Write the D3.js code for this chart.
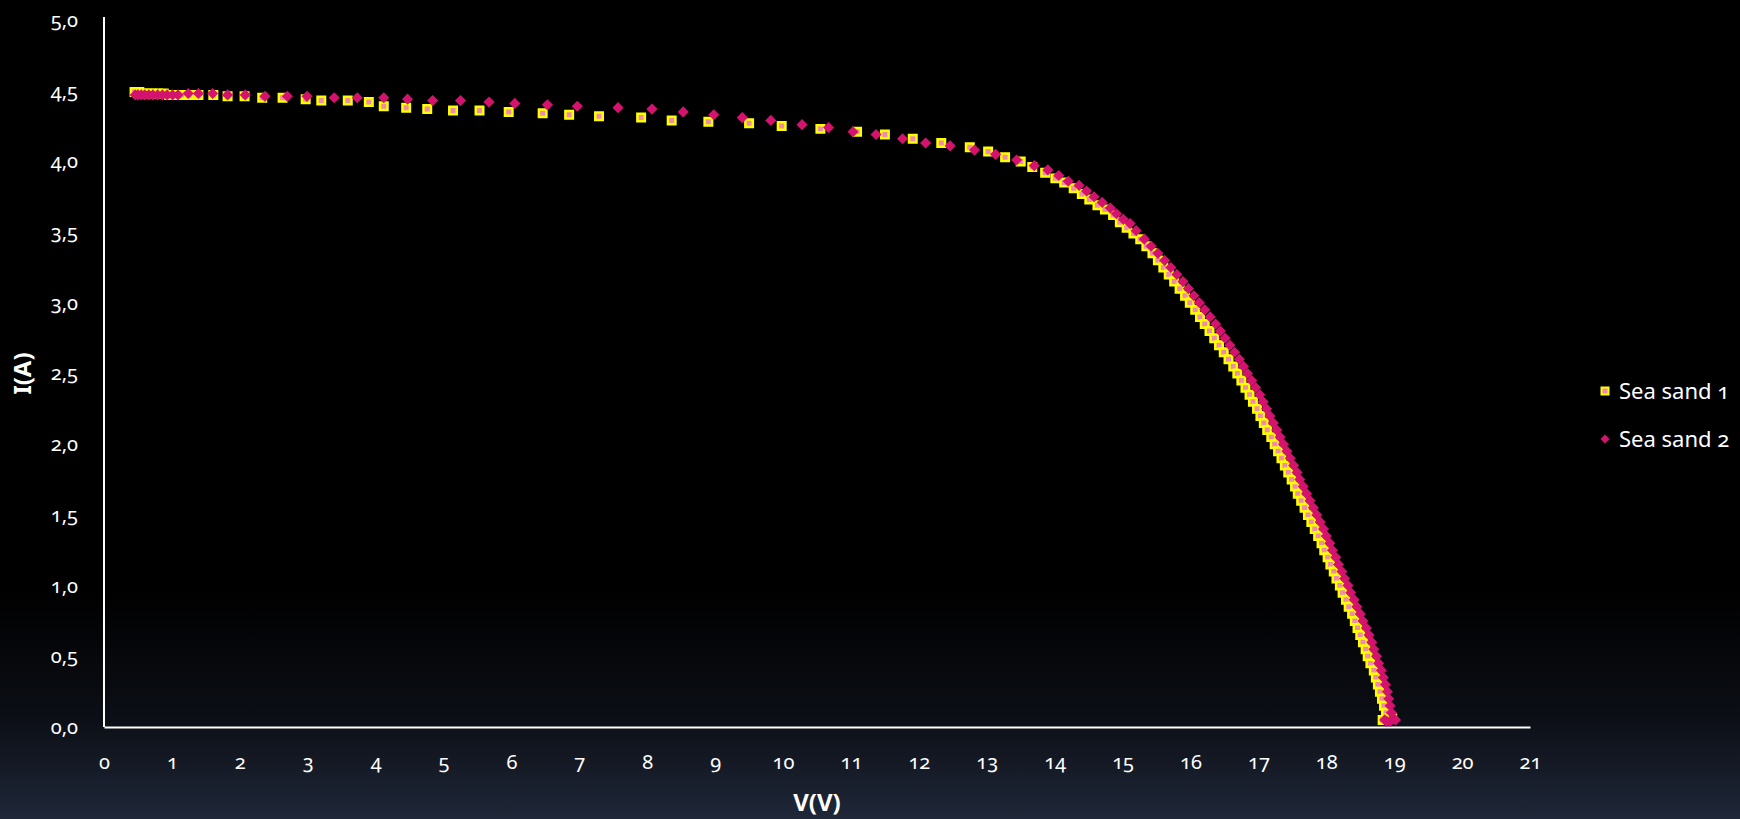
<!DOCTYPE html>
<html lang="en">
  <head>
    <meta charset="utf-8">
    <title>I-V curve :: Sea sand</title>
    <style>
      html, body {
        margin: 0;
        padding: 0;
        background: #000;
      }
      svg text {
        font-family: 'Noto Sans', 'Open Sans', sans-serif;
        font-variant-numeric: oldstyle-nums;
        fill: #fff;
      }
      .axis .domain {
        stroke: #fff;
        stroke-width: 2px;
      }
      .axis text {
        font-size: 20px;
      }
      .axis-title {
        font-size: 24px;
        font-weight: bold;
      }
      .legend text {
        font-size: 22px;
      }
    </style>
  </head>

  <body>
    <svg id="wrapper" width="1740" height="819"></svg>

    <script src="https://cdnjs.cloudflare.com/ajax/libs/d3/7.8.5/d3.min.js"></script>
    <script>
    const seriesNames = ['Sea sand 1', 'Sea sand 2'];
    const xTicks = [0, 1, 2, 3, 4, 5, 6, 7, 8, 9, 10, 11, 12, 13, 14, 15, 16, 17, 18, 19, 20, 21];
    const yTicks = [0, 0.5, 1, 1.5, 2, 2.5, 3, 3.5, 4, 4.5, 5];

    // [V, I]
    const seaSand1 = [
      [0.45,4.49],[0.52,4.49],[0.58,4.48],[0.65,4.48],[0.72,4.48],[0.80,4.48],[0.88,4.48],[0.96,4.47],
      [1.05,4.47],[1.14,4.47],[1.25,4.47],[1.39,4.47],[1.61,4.47],[1.82,4.46],[2.07,4.46],[2.33,4.45],
      [2.63,4.45],[2.97,4.44],[3.20,4.43],[3.59,4.43],[3.90,4.42],[4.12,4.39],[4.45,4.38],[4.76,4.37],
      [5.14,4.36],[5.53,4.36],[5.96,4.35],[6.46,4.34],[6.85,4.33],[7.29,4.32],[7.91,4.31],[8.36,4.29],
      [8.90,4.28],[9.50,4.27],[9.98,4.25],[10.55,4.23],[11.09,4.21],[11.50,4.19],[11.91,4.16],[12.33,4.13],
      [12.75,4.10],[13.02,4.07],[13.27,4.03],[13.50,4.00],[13.67,3.96],[13.86,3.92],[14.01,3.88],[14.14,3.85],
      [14.28,3.81],[14.40,3.77],[14.51,3.73],[14.63,3.69],[14.74,3.66],[14.86,3.62],[14.96,3.57],[15.06,3.53],
      [15.16,3.49],[15.26,3.45],[15.35,3.40],[15.44,3.35],[15.52,3.30],[15.60,3.25],[15.68,3.20],[15.76,3.15],
      [15.84,3.10],[15.92,3.05],[15.99,3.00],[16.07,2.95],[16.14,2.90],[16.21,2.85],[16.28,2.80],[16.35,2.75],
      [16.42,2.70],[16.49,2.65],[16.56,2.60],[16.63,2.55],[16.69,2.50],[16.75,2.45],[16.81,2.40],[16.87,2.35],
      [16.92,2.30],[16.98,2.25],[17.03,2.20],[17.08,2.15],[17.13,2.10],[17.19,2.05],[17.24,2.00],[17.29,1.95],
      [17.34,1.90],[17.39,1.85],[17.44,1.80],[17.49,1.75],[17.54,1.70],[17.58,1.65],[17.63,1.60],[17.68,1.55],
      [17.73,1.50],[17.78,1.45],[17.83,1.40],[17.88,1.35],[17.93,1.30],[17.97,1.25],[18.02,1.20],[18.06,1.15],
      [18.11,1.10],[18.15,1.05],[18.20,1.00],[18.24,0.95],[18.29,0.90],[18.33,0.85],[18.38,0.80],[18.42,0.75],
      [18.46,0.70],[18.50,0.65],[18.54,0.60],[18.58,0.55],[18.61,0.50],[18.65,0.45],[18.70,0.40],[18.73,0.35],
      [18.76,0.30],[18.79,0.25],[18.82,0.20],[18.85,0.15],[18.88,0.10],[18.92,0.06],[18.97,0.06],[18.87,0.05],
      [18.83,0.05]
    ];

    const seaSand2 = [
      [0.46,4.47],[0.50,4.47],[0.55,4.47],[0.60,4.47],[0.66,4.47],[0.72,4.47],[0.79,4.47],[0.86,4.47],
      [0.93,4.47],[1.01,4.47],[1.09,4.47],[1.24,4.48],[1.39,4.48],[1.60,4.48],[1.82,4.47],[2.08,4.47],
      [2.37,4.46],[2.70,4.46],[2.99,4.46],[3.39,4.45],[3.73,4.45],[4.12,4.45],[4.47,4.44],[4.84,4.43],
      [5.25,4.43],[5.67,4.42],[6.05,4.41],[6.53,4.40],[6.97,4.39],[7.57,4.38],[8.07,4.37],[8.53,4.35],
      [8.98,4.33],[9.40,4.31],[9.82,4.29],[10.28,4.26],[10.67,4.24],[11.03,4.21],[11.37,4.19],[11.76,4.16],
      [12.10,4.13],[12.46,4.11],[12.82,4.08],[13.13,4.05],[13.44,4.01],[13.70,3.97],[13.90,3.94],[14.06,3.90],
      [14.20,3.86],[14.36,3.83],[14.47,3.79],[14.58,3.75],[14.70,3.71],[14.82,3.67],[14.91,3.63],[15.01,3.59],
      [15.11,3.56],[15.20,3.51],[15.32,3.45],[15.42,3.40],[15.52,3.35],[15.62,3.30],[15.71,3.25],[15.80,3.20],
      [15.89,3.15],[15.97,3.10],[16.05,3.05],[16.13,3.00],[16.21,2.95],[16.29,2.90],[16.37,2.85],[16.44,2.80],
      [16.51,2.75],[16.58,2.70],[16.65,2.65],[16.72,2.60],[16.78,2.55],[16.84,2.50],[16.90,2.45],[16.96,2.40],
      [17.02,2.35],[17.07,2.30],[17.12,2.25],[17.17,2.20],[17.22,2.15],[17.27,2.10],[17.32,2.05],[17.37,2.00],
      [17.42,1.95],[17.47,1.90],[17.52,1.85],[17.57,1.80],[17.61,1.75],[17.66,1.70],[17.71,1.65],[17.76,1.60],
      [17.81,1.55],[17.86,1.50],[17.91,1.45],[17.96,1.40],[18.00,1.35],[18.05,1.30],[18.09,1.25],[18.14,1.20],
      [18.18,1.15],[18.23,1.10],[18.27,1.05],[18.32,1.00],[18.36,0.95],[18.41,0.90],[18.45,0.85],[18.50,0.80],
      [18.54,0.75],[18.59,0.70],[18.63,0.65],[18.67,0.60],[18.70,0.55],[18.74,0.50],[18.77,0.45],[18.81,0.40],
      [18.84,0.35],[18.87,0.30],[18.90,0.25],[18.92,0.20],[18.94,0.15],[18.96,0.10],[18.98,0.06],[19.02,0.05],
      [18.94,0.04],[18.89,0.04],[18.86,0.05]
    ];

    const yellow = '#ffff00';
    const squareFill = '#f08cab';
    const crimson = '#d4136f';

    let svg = d3.select('#wrapper');

    // background: black fading to dark navy at the bottom
    let grad = svg.append('defs').append('linearGradient')
      .attr('id', 'bg')
      .attr('x1', 0).attr('y1', 0).attr('x2', 0).attr('y2', 1);
    grad.append('stop').attr('offset', '0').attr('stop-color', '#000');
    grad.append('stop').attr('offset', '0.72').attr('stop-color', '#000');
    grad.append('stop').attr('offset', '0.88').attr('stop-color', '#0c0f16');
    grad.append('stop').attr('offset', '1').attr('stop-color', '#1f2738');
    svg.append('rect')
      .attr('width', 1740).attr('height', 819)
      .attr('fill', 'url(#bg)');

    // set ranges
    let x = d3.scaleLinear().domain([0, 21]).range([104, 1530]);
    let y = d3.scaleLinear().domain([0, 5]).range([727, 20]);

    // draw x-axis
    svg.append('g')
      .attr('class', 'axis axis-x')
      .attr('transform', 'translate(0,' + y(0) + ')')
      .call(d3.axisBottom(x).tickValues(xTicks).tickSize(0).tickPadding(28))
      .call(g => g.selectAll('text').attr('fill', '#fff'));

    // draw y-axis
    svg.append('g')
      .attr('class', 'axis axis-y')
      .attr('transform', 'translate(' + x(0) + ',0)')
      .call(d3.axisLeft(y).tickValues(yTicks).tickSize(0).tickPadding(26)
        .tickFormat(d => d.toFixed(1).replace('.', ',')))
      .call(g => g.selectAll('path.domain').attr('d', 'M0,17V' + y(0)))
      .call(g => g.selectAll('text').attr('fill', '#fff'));

    // axis titles
    svg.append('text')
      .attr('class', 'axis-title')
      .attr('transform', 'translate(23,' + y(2.5) + ') rotate(-90)')
      .attr('text-anchor', 'middle')
      .attr('dy', '0.35em')
      .text('I(A)');

    svg.append('text')
      .attr('class', 'axis-title')
      .attr('x', (x(0) + x(21)) / 2)
      .attr('y', 803)
      .attr('text-anchor', 'middle')
      .attr('dy', '0.35em')
      .text('V(V)');

    // Sea sand 1: squares
    let square = d3.symbol(d3.symbolSquare, 56);
    svg.append('g')
      .selectAll('path')
      .data(seaSand1)
      .join('path')
      .attr('d', square)
      .attr('transform', d => 'translate(' + x(d[0]) + ',' + y(d[1]) + ')')
      .attr('fill', squareFill)
      .attr('stroke', yellow)
      .attr('stroke-width', 2.5);

    // Sea sand 2: diamonds
    let diamond = d3.symbol(d3.symbolSquare, 62);
    svg.append('g')
      .selectAll('path')
      .data(seaSand2)
      .join('path')
      .attr('d', diamond)
      .attr('transform', d => 'translate(' + x(d[0]) + ',' + y(d[1]) + ') rotate(45)')
      .attr('fill', crimson);

    // legend
    let legend = svg.append('g').attr('class', 'legend');
    legend.append('path')
      .attr('d', d3.symbol(d3.symbolSquare, 49))
      .attr('transform', 'translate(1605,391)')
      .attr('fill', squareFill)
      .attr('stroke', yellow)
      .attr('stroke-width', 2);
    legend.append('path')
      .attr('d', d3.symbol(d3.symbolSquare, 40))
      .attr('transform', 'translate(1605,439) rotate(45)')
      .attr('fill', crimson);
    legend.selectAll('text.name')
      .data(seriesNames)
      .join('text')
      .attr('class', 'name')
      .attr('x', 1619)
      .attr('y', (d, i) => 391 + i * 48)
      .attr('dy', '0.35em')
      .text(d => d);
    </script>
  </body>
</html>
